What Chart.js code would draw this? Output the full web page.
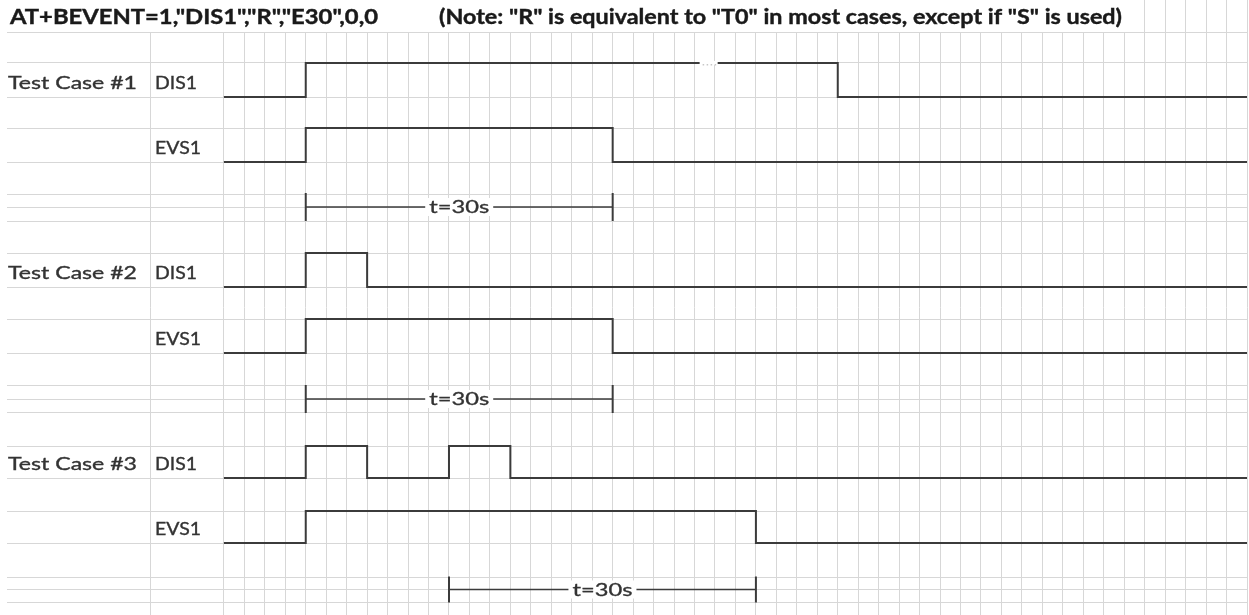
<!DOCTYPE html>
<html>
<head>
<meta charset="utf-8">
<title>BEVENT timing</title>
<script src="https://cdn.jsdelivr.net/npm/chart.js@4/dist/chart.umd.min.js"></script>
<style>
  html, body { margin: 0; padding: 0; background: #fff; overflow: hidden; }
  canvas { display: block; }
</style>
</head>
<body>
<canvas id="timing" width="1249" height="615"></canvas>
<script>
// ---- data (time in seconds, one sheet column = 2 s) ----
const tc1Dis1Time = [0, 8, 60, 100];
const tc1Dis1State = [0, 1, 0, 0];
const tc1Evs1Time = [0, 8, 38, 100];
const tc1Evs1State = [0, 1, 0, 0];

const tc2Dis1Time = [0, 8, 14, 100];
const tc2Dis1State = [0, 1, 0, 0];
const tc2Evs1Time = [0, 8, 38, 100];
const tc2Evs1State = [0, 1, 0, 0];

const tc3Dis1Time = [0, 8, 14, 22, 28, 100];
const tc3Dis1State = [0, 1, 0, 1, 0, 0];
const tc3Evs1Time = [0, 8, 52, 100];
const tc3Evs1State = [0, 1, 0, 0];

const marker1 = [8, 38];
const marker2 = [8, 38];
const marker3 = [22, 52];
const markerText = 't=30s';

const caseNames = ['Test Case #1', 'Test Case #2', 'Test Case #3'];
const signalNames = ['DIS1', 'EVS1'];
const titleText = 'AT+BEVENT=1,"DIS1","R","E30",0,0';
const noteText = '(Note: "R" is equivalent to "T0" in most cases, except if "S" is used)';

// ---- sheet layout (pixel rows of the spreadsheet) ----
const rowLines = [32, 63, 97, 128, 162, 194, 207, 221, 253, 287, 319, 353,
                  385, 399, 412, 446, 478, 511, 543, 577, 589, 602];
const colTicks = [-7.2];
for (let t = 0; t <= 100; t += 2) colTicks.push(t);

// [top, bottom] of each signal row
const signalRows = [[63, 97], [128, 162], [253, 287], [319, 353], [446, 478], [511, 543]];
const markerRows = [207, 399, 589.5];

const INK = '#3b3b3b';

function signal(times, states, row) {
  return {
    data: times.map((t, i) => ({ x: t, y: states[i] ? row[0] : row[1] })),
    borderColor: INK,
    borderWidth: 2,
    stepped: true,
    pointRadius: 0,
    fill: false
  };
}

function marker(span, yPos, r) {
  return {
    data: span.map(t => ({ x: t, y: yPos })),
    borderColor: INK,
    borderWidth: 1.6,
    pointStyle: 'line',
    rotation: 90,
    pointRadius: r,
    pointBorderColor: INK,
    pointBorderWidth: 2,
    fill: false
  };
}

// stretch text horizontally to the width it has in the sheet picture
function fitText(ctx, str, left, baseline, width, font, color, thick) {
  ctx.save();
  ctx.font = font;
  ctx.fillStyle = color;
  ctx.strokeStyle = color;
  ctx.lineWidth = thick || 0;
  ctx.textBaseline = 'alphabetic';
  const w = ctx.measureText(str).width;
  ctx.translate(left, baseline);
  ctx.scale(width / w, 1);
  ctx.fillText(str, 0, 0);
  if (thick) ctx.strokeText(str, 0, 0);
  ctx.restore();
}

const sheetText = {
  id: 'sheetText',
  afterDatasetsDraw(chart) {
    const { ctx, scales: { x, y } } = chart;

    // title row: overflowing text hides the gridlines
    ctx.save();
    ctx.fillStyle = '#fff';
    ctx.fillRect(0, 0, 1134, y.getPixelForValue(32));
    ctx.restore();
    fitText(ctx, titleText, 10, 23.5, 368, 'bold 20px Lato', '#1a1a1a', 0.4);
    fitText(ctx, noteText, 439, 23.5, 683, 'bold 20px Lato', '#1a1a1a', 0.4);

    // small break in the first DIS1 high level (as in the sheet)
    const gx = x.getPixelForValue(46.5);
    const gy = y.getPixelForValue(signalRows[0][0]);
    ctx.save();
    ctx.fillStyle = '#fff';
    ctx.fillRect(gx, gy - 2, 18, 4);
    ctx.fillStyle = '#c8c8c8';
    for (let k = 0; k < 4; k++) ctx.fillRect(gx + 3 + k * 4, gy + 1, 1.5, 1.5);
    ctx.restore();

    // case / signal names
    signalRows.forEach((row, i) => {
      const base = y.getPixelForValue(row[1]) - 8.5;
      if (i % 2 === 0) fitText(ctx, caseNames[i / 2], 8, base, 129, '17.5px Lato', '#333', 0.35);
      const name = signalNames[i % 2];
      fitText(ctx, name, 155, base, name === 'DIS1' ? 42 : 46, '17.5px Lato', '#333', 0.35);
    });

    // t=30s labels with white cell background
    [marker1, marker2, marker3].forEach((span, i) => {
      const cx = (x.getPixelForValue(span[0]) + x.getPixelForValue(span[1])) / 2;
      const cy = y.getPixelForValue(markerRows[i]);
      ctx.save();
      ctx.fillStyle = '#fff';
      ctx.fillRect(cx - 34, cy - 9, 68, 18);
      ctx.restore();
      fitText(ctx, markerText, cx - 30, cy + 6, 60, '16.5px Lato', '#333', 0.3);
    });
  }
};

const gridColor = '#d7d7d7';

new Chart(document.getElementById('timing'), {
  type: 'line',
  data: {
    datasets: [
      signal(tc1Dis1Time, tc1Dis1State, signalRows[0]),
      signal(tc1Evs1Time, tc1Evs1State, signalRows[1]),
      signal(tc2Dis1Time, tc2Dis1State, signalRows[2]),
      signal(tc2Evs1Time, tc2Evs1State, signalRows[3]),
      signal(tc3Dis1Time, tc3Dis1State, signalRows[4]),
      signal(tc3Evs1Time, tc3Evs1State, signalRows[5]),
      marker(marker1, markerRows[0], 14),
      marker(marker2, markerRows[1], 14),
      marker(marker3, markerRows[2], 13)
    ]
  },
  plugins: [sheetText],
  options: {
    responsive: false,
    devicePixelRatio: 1,
    animation: false,
    events: [],
    layout: { autoPadding: false, padding: { left: 7, right: 2, top: 0, bottom: 0 } },
    plugins: {
      legend: { display: false },
      tooltip: { enabled: false }
    },
    scales: {
      x: {
        type: 'linear',
        min: -21.2,
        max: 100,
        afterBuildTicks: s => { s.ticks = colTicks.map(v => ({ value: v })); },
        afterFit: s => { s.height = 0; },
        ticks: { display: false },
        border: { display: false },
        grid: { color: gridColor, lineWidth: 1, drawTicks: false }
      },
      y: {
        type: 'linear',
        reverse: true,
        min: 0,
        max: 615,
        afterBuildTicks: s => { s.ticks = rowLines.map(v => ({ value: v })); },
        afterFit: s => { s.width = 0; },
        ticks: { display: false },
        border: { display: false },
        grid: { color: gridColor, lineWidth: 1, drawTicks: false }
      }
    }
  }
});
</script>
</body>
</html>
